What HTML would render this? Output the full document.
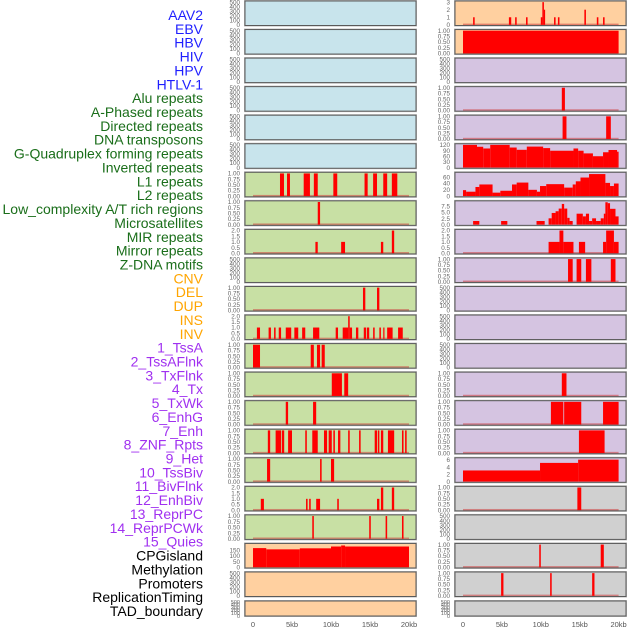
<!DOCTYPE html>
<html><head><meta charset="utf-8">
<style>
html,body{margin:0;padding:0;background:#fff;}
svg{display:block;font-family:"Liberation Sans",sans-serif;}
</style></head>
<body>
<svg id="chart" width="630" height="630" viewBox="0 0 630 630"></svg>
<script>
// ---------- data ----------
const trackLabels = ["AAV2","EBV","HBV","HIV","HPV","HTLV-1",
"Alu repeats","A-Phased repeats","Directed repeats","DNA transposons","G-Quadruplex forming repeats","Inverted repeats","L1 repeats","L2 repeats","Low_complexity A/T rich regions","Microsatellites","MIR repeats","Mirror repeats","Z-DNA motifs",
"CNV","DEL","DUP","INS","INV",
"1_TssA","2_TssAFlnk","3_TxFlnk","4_Tx","5_TxWk","6_EnhG","7_Enh","8_ZNF_Rpts","9_Het","10_TssBiv","11_BivFlnk","12_EnhBiv","13_ReprPC","14_ReprPCWk","15_Quies",
"CPGisland","Methylation","Promoters","ReplicationTiming","TAD_boundary"];
const labelGroups = [6,13,5,15,5];
const groupColors = ["#1f1fff","#1a6e1a","#ffa500","#a030f0","#000000"];

const xTickValues = [0,5,10,15,20];
const xTickLabels = ["0","5kb","10kb","15kb","20kb"];

const tickEmpty = [0,100,200,300,400,500];
const tickEmptyLbl = ["0","100","200","300","400","500"];
const tickBin = [0,0.25,0.5,0.75,1];
const tickBinLbl = ["0.00","0.25","0.50","0.75","1.00"];
const tickTwo = [0,0.5,1,1.5,2];
const tickTwoLbl = ["0.0","0.5","1.0","1.5","2.0"];

// left column panels
const leftBg = ["b","b","b","b","b","b","g","g","g","g","g","g","g","g","g","g","g","g","g","p","p","p"];
const leftKind = ["E","E","E","E","E","E","B","B","T","E","B","T","B","B","B","B","B","T","B","C","E","E"];
const leftSegs = [
 [],[],[],[],[],[],
 [[3.46,3.97,1],[4.36,4.74,1],[6.5,7.3,1],[7.8,8.3,1],[10.3,10.8,1],[14.3,14.7,1],[15.4,15.9,1],[16.7,17.2,1],[17.8,18.5,1]],
 [[8.3,8.6,1]],
 [[8.0,8.3,1],[11.3,11.8,1],[16.4,16.7,1],[17.8,18.1,2]],
 [],
 [[14.1,14.4,1],[15.9,16.2,1]],
 [[0.5,0.9,1],[2.0,2.3,1],[2.7,2.9,1],[3.3,3.6,1],[4.2,4.9,1],[5.3,5.8,1],[6.3,6.7,1],[7.7,8.5,1],[10.6,10.9,1],[11.5,12.2,1],[12.2,12.4,2],[12.4,12.7,1],[13.2,13.5,1],[14.2,14.5,1],[14.6,14.9,1],[15.4,15.6,1],[16.2,16.4,1],[16.7,16.8,1],[17.2,17.9,1],[18.6,19.2,1]],
 [[0,0.9,1],[7.4,7.8,1],[8.2,8.6,1],[8.8,9.2,1]],
 [[10.1,11.4,1],[11.7,12.2,1]],
 [[4.2,4.5,1],[7.7,8.1,1]],
 [[1.9,2.2,1],[2.9,3.6,1],[3.7,4.0,1],[4.5,5.0,1],[6.7,6.9,1],[7.6,8.3,1],[9.1,9.5,1],[9.7,10.1,1],[10.3,10.5,1],[10.9,11.2,1],[12.2,12.4,1],[13.6,13.8,1],[15.6,15.9,1],[16.0,16.2,1],[16.4,16.7,1],[17.3,18.1,1],[19.1,19.3,1],[19.5,19.7,1]],
 [[1.8,2.2,1],[8.6,8.8,1],[10.0,10.4,1]],
 [[1.0,1.4,1],[6.8,7.0,1],[7.2,7.4,1],[8.1,8.6,1],[10.8,11.0,1],[15.9,16.2,1],[16.4,16.7,2],[17.8,18.1,2]],
 [[7.6,7.8,1],[14.9,15.1,1],[17.0,17.2,1],[19.1,19.3,1]],
 [[0,1.7,169],[1.7,6.0,158],[6.0,10.0,167],[10.0,11.3,183],[11.3,11.8,192],[11.8,20,183]],
 [],[]
];

// right column panels
const rightBg = ["p","p","v","v","v","v","v","v","v","v","v","v","v","v","v","v","v","y","y","y","y","y"];
const rightKind = ["R0","B","E","B","B","R5","R6","R7","T","B","E","E","E","B","B","B","R16","B","E","B","B","E"];
const rightSegs = [
 [[1.3,1.5,1],[5.9,6.2,1],[6.7,6.9,1],[8.1,8.3,1],[10.0,10.2,1],[10.2,10.4,3],[10.4,10.5,2],[11.7,11.9,1],[12.2,12.4,1],[15.6,15.8,2],[17.2,17.4,1],[18.0,18.2,1]],
 [[0,20,1]],
 [],
 [[12.7,13.1,1]],
 [[12.8,13.3,1],[18.4,19.0,1]],
 [[0,1.8,120],[1.8,2.6,110],[2.6,3.5,101],[3.5,6.0,120],[6.0,6.9,106],[6.9,8.2,94],[8.2,10.3,111],[10.3,11.2,103],[11.2,14.2,89],[14.2,14.8,101],[14.8,15.5,89],[15.5,16.7,75],[16.7,18.0,60],[18.0,18.7,81],[18.7,19.8,93],[19.8,20,84]],
 [[0,0.4,19],[0.4,1.6,14],[1.6,2.1,29],[2.1,3.8,37],[3.8,4.8,11],[4.8,6.3,17],[6.3,6.9,37],[6.9,8.4,43],[8.4,9.5,20],[9.5,9.9,14],[9.9,10.7,32],[10.7,13.0,38],[13.0,14.1,27],[14.1,14.5,37],[14.5,15.1,47],[15.1,16.2,59],[16.2,18.3,70],[18.3,18.9,42],[18.9,19.4,32],[19.4,20,40]],
 [[1.3,2.1,1.5],[4.9,5.7,1.5],[9.45,10.5,1.5],[11.0,11.4,2.6],[11.4,11.9,4.8],[11.9,12.3,5.5],[12.3,12.7,6.6],[12.7,13.0,8.5],[13.0,13.4,6.6],[13.4,13.7,2.8],[13.7,14.1,1.5],[14.6,15.4,4.5],[15.4,15.8,3.4],[15.8,16.2,4.5],[16.2,16.6,1.5],[16.6,17.1,2.6],[17.1,17.7,1.5],[17.7,18.1,2.6],[18.1,18.3,4.5],[18.3,18.6,9.2],[18.6,18.9,8.8],[18.9,19.6,6.5],[19.6,20,3.4]],
 [[11.0,12.4,1],[12.4,12.9,2],[12.9,14.2,1],[14.9,15.7,1],[18.0,18.4,1],[18.4,19.4,2],[19.4,20,1]],
 [[13.5,14.1,1],[14.6,15.2,1],[15.8,16.5,1],[19.0,19.6,1]],
 [],[],[],
 [[12.7,13.3,1]],
 [[11.3,12.9,1],[13.0,15.2,1],[18.0,20,1]],
 [[14.9,18.2,1]],
 [[0,9.9,3.1],[9.9,14.8,5.2],[14.8,20,6.1]],
 [[14.7,15.2,1]],
 [],
 [[9.8,10.0,1],[17.7,18.1,1]],
 [[4.9,5.2,1],[11.2,11.4,1],[16.6,16.9,1]],
 []
];

const kindYmax = {E:500,B:1,T:2,C:200,R0:3,R5:120,R6:72,R7:9.3,R16:6.3};
const kindTicks = {E:tickEmpty,B:tickBin,T:tickTwo,C:[0,50,100,150],R0:[0,1,2,3],R5:[0,30,60,90,120],R6:[0,20,40,60],R7:[0,2.5,5,7.5],R16:[0,2,4,6]};
const kindTickLbl = {E:tickEmptyLbl,B:tickBinLbl,T:tickTwoLbl,C:["0","50","100","150"],R0:["0","1","2","3"],R5:["0","30","60","90","120"],R6:["0","20","40","60"],R7:["0.0","2.5","5.0","7.5"],R16:["0","2","4","6"]};

// ---------- drawing ----------
const NS="http://www.w3.org/2000/svg";
const svg=document.getElementById("chart");
function mk(tag,attrs,parent){const e=document.createElementNS(NS,tag);for(const k in attrs)e.setAttribute(k,attrs[k]);(parent||svg).appendChild(e);return e;}
const bgColors={b:"#c8e4ec",g:"#c8e0a4",p:"#ffd0a0",v:"#d5c4e1",y:"#d0d0d0"};

// labels
let li=0;
labelGroups.forEach((n,gi)=>{for(let j=0;j<n;j++){
  const t=mk("text",{x:203,y:(20+li*13.86).toFixed(1),"text-anchor":"end","font-size":"14",fill:groupColors[gi]});
  t.textContent=trackLabels[li];
  
  
  li++;}});

function rowTop(k){return k<21?1+k*28.55:601;}
function rowH(k){return k<21?24.5:15;}

function drawColumn(side,bgArr,kindArr,segArr,px0,x0,xs){
  for(let k=0;k<22;k++){
    const top=rowTop(k),h=rowH(k);
    const kind=kindArr[k];
    const ymax=kindYmax[kind];
    const lo=-0.03*ymax, hi=1.05*ymax;
    const yS=v=>top+h-(v-lo)/(hi-lo)*h;
    const xS=v=>x0+v*xs;
    const g=mk("g",{});
    
    
    mk("rect",{x:px0-0.5,y:top-0.5,width:172,height:h+1,fill:"none",stroke:"#bbb","stroke-width":1},g);
    const bg=mk("rect",{x:px0,y:top,width:171,height:h,fill:bgColors[bgArr[k]]},g);
    
    
    const segs=segArr[k];
    if(segs.length && (kind==="B"||kind==="T"||kind==="R0")){
      const bl=mk("rect",{x:xS(0),y:yS(0)-1.2,width:xS(20)-xS(0),height:1.6,fill:"rgba(205,60,60,0.55)"},g);
      
      
    }
    segs.forEach(s=>{
      const x1=xS(s[0]),x2=xS(s[1]);
      const r=mk("rect",{x:x1.toFixed(2),y:yS(s[2]).toFixed(2),width:Math.max(1.2,x2-x1).toFixed(2),height:(yS(0)-yS(s[2])).toFixed(2),fill:"#ff0000"},g);
      
      
    });
    mk("rect",{x:px0,y:top,width:171,height:h,fill:"none",stroke:"#5a5a5a","stroke-width":1},g);
    const ticks=kindTicks[kind],tl=kindTickLbl[kind];
    const fs=k<21?6.3:5.5;
    ticks.forEach((v,i)=>{
      const t=mk("text",{x:px0-5,y:(yS(v)+2.2).toFixed(2),"text-anchor":"end","font-size":fs,fill:"#666"},g);
      t.textContent=tl[i];
      
      
    });
  }
  xTickValues.forEach((v,i)=>{
    const t=mk("text",{x:x0+v*xs,y:627,"text-anchor":"middle","font-size":"7.5",fill:"#555"});
    t.textContent=xTickLabels[i];
    
    
  });
}
drawColumn('left',leftBg,leftKind,leftSegs,245,253,7.8);
drawColumn('right',rightBg,rightKind,rightSegs,455,463,7.78);
</script>
</body></html>
